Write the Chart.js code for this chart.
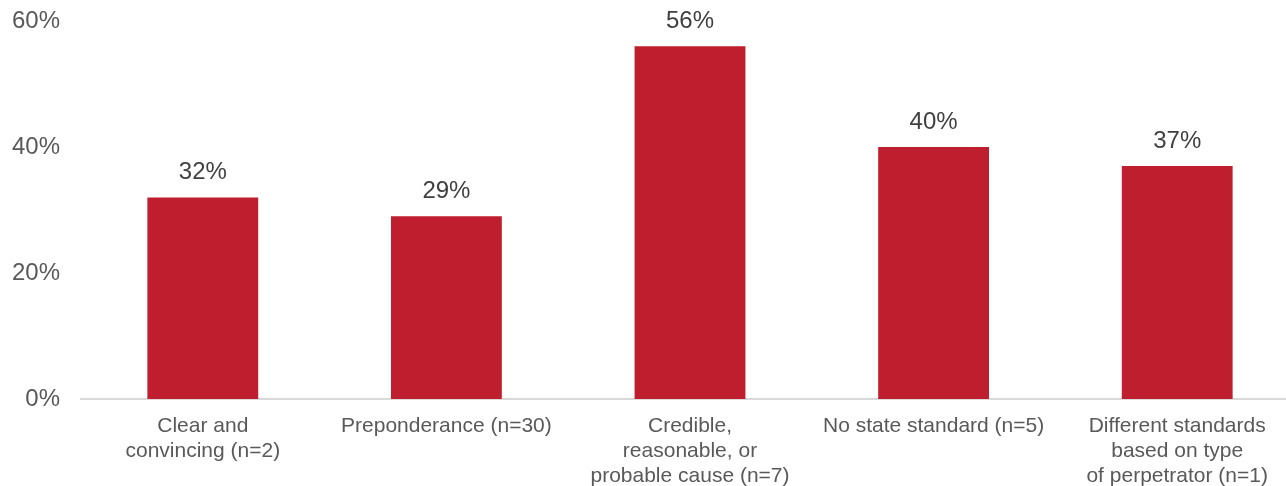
<!DOCTYPE html>
<html>
<head>
<meta charset="utf-8">
<script src="https://cdn.jsdelivr.net/npm/chart.js@4/dist/chart.umd.min.js"></script>
<style>
  html, body { margin: 0; padding: 0; background: #fff; overflow: hidden; }
  #wrap { width: 1299px; height: 486px; }
</style>
</head>
<body>
<div id="wrap"><canvas id="graficoPadroes"></canvas></div>
<script>
const categorias = [
    ['Clear and', 'convincing (n=2)'],
    'Preponderance (n=30)',
    ['Credible,', 'reasonable, or', 'probable cause (n=7)'],
    'No state standard (n=5)',
    ['Different standards', 'based on type', 'of perpetrator (n=1)']
];
const percentuais = [32, 29, 56, 40, 37];
const marcasEixoY = [0, 20, 40, 60];

const fonte = "'Liberation Sans', Arial, sans-serif";

// escreve o valor em cima de cada barra
const rotulosValor = {
    id: 'rotulosValor',
    afterDatasetsDraw(grafico) {
        const ctx = grafico.ctx;
        const meta = grafico.getDatasetMeta(0);
        ctx.save();
        ctx.font = '24px ' + fonte;
        ctx.fillStyle = '#404040';
        ctx.textAlign = 'center';
        ctx.textBaseline = 'middle';
        meta.data.forEach((barra, i) => {
            ctx.fillText(percentuais[i] + '%', barra.x, barra.y - 25);
        });
        ctx.restore();
    }
};

new Chart(document.getElementById('graficoPadroes'), {
    type: 'bar',
    data: {
        labels: categorias,
        datasets: [{
            data: percentuais,
            backgroundColor: '#BE1E2D',
            categoryPercentage: 1,
            barPercentage: 0.455
        }]
    },
    options: {
        responsive: true,
        maintainAspectRatio: false,
        animation: false,
        layout: { padding: { top: 21, right: 0, bottom: 0, left: 0 } },
        plugins: {
            legend: { display: false },
            tooltip: { enabled: false }
        },
        scales: {
            x: {
                grid: { display: false, drawTicks: false },
                border: { display: true, color: '#d9d9d9', width: 2 },
                ticks: {
                    color: '#595959',
                    font: { family: fonte, size: 21, lineHeight: 1.19 },
                    padding: 15,
                    maxRotation: 0,
                    autoSkip: false
                },
                afterFit(escala) { escala.height = 87; }
            },
            y: {
                min: 0,
                max: 60,
                grid: { display: false, drawTicks: false },
                border: { display: false },
                afterBuildTicks(escala) {
                    escala.ticks = marcasEixoY.map(v => ({ value: v }));
                },
                ticks: {
                    color: '#595959',
                    font: { family: fonte, size: 24 },
                    padding: 21,
                    callback: v => v + '%'
                },
                afterFit(escala) {
                    escala.width = 81;
                    escala.paddingTop = 0;
                    escala.paddingBottom = 0;
                }
            }
        }
    },
    plugins: [rotulosValor]
});
</script>
</body>
</html>
